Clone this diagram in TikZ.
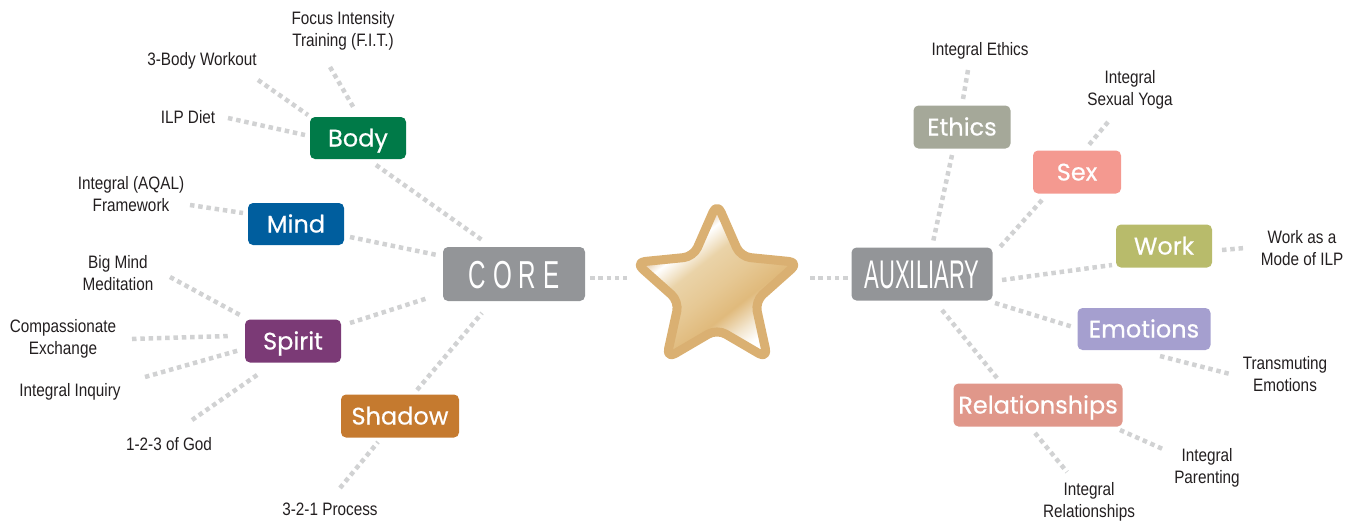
\documentclass[tikz,border=0pt]{standalone}
\usepackage{fontspec}
\setmainfont{Liberation Sans}[FakeStretch=0.85]
\newfontfamily\boxfont{Poppins}[FakeBold=0.5]
\newfontfamily\bigfont{Liberation Sans}[FakeStretch=0.55]
\newfontfamily\corefont{Liberation Sans}[FakeStretch=0.62]
\usetikzlibrary{calc}
\definecolor{lbltext}{HTML}{231F20}
\definecolor{dotgray}{HTML}{D1D2D3}
\definecolor{cBody}{HTML}{007A48}
\definecolor{cMind}{HTML}{005E9E}
\definecolor{cSpirit}{HTML}{7B3A76}
\definecolor{cShadow}{HTML}{C57A2F}
\definecolor{cGray}{HTML}{939598}
\definecolor{cEthics}{HTML}{A5A899}
\definecolor{cSex}{HTML}{F49990}
\definecolor{cWork}{HTML}{B8BB6B}
\definecolor{cEmo}{HTML}{A59FCF}
\definecolor{cRel}{HTML}{E0978A}
\definecolor{gRim}{HTML}{DAB072}
\definecolor{gA}{HTML}{D9B079}
\definecolor{gB}{HTML}{EAD3A8}
\definecolor{gC}{HTML}{E6C894}
\definecolor{gD}{HTML}{E0BA7C}
\definecolor{gE}{HTML}{F3E6CF}
\pgfdeclarehorizontalshading{goldshade}{100bp}{color(0bp)=(gA); color(30bp)=(gA); color(36bp)=(white); color(43bp)=(gB); color(52bp)=(gC); color(60bp)=(gD); color(67bp)=(gE); color(72bp)=(white); color(100bp)=(white)}
\tikzset{
  lbl/.style={font=\fontsize{18}{22}\selectfont, align=center, text=lbltext, inner sep=0pt},
  box/.style={rounded corners=5pt, inner sep=0pt, text=white, font=\boxfont\fontsize{24}{24}\selectfont, text height=17pt, text depth=0pt},
  dotline/.style={draw=dotgray, line width=4.5pt, dash pattern=on 4.5pt off 3.8pt, line cap=butt}
}
\begin{document}
\begin{tikzpicture}[x=1pt,y=-1pt]
\useasboundingbox (0,0) rectangle (1356,523);
% boxes
\node[box, fill=cBody, minimum width=96pt, minimum height=42pt] (body) at (358,138) {Body};
\node[box, fill=cMind, minimum width=96pt, minimum height=42pt] (mind) at (296,224) {Mind};
\node[box, fill=cSpirit, minimum width=96pt, minimum height=43pt] (spirit) at (293,341) {Spirit};
\node[box, fill=cShadow, minimum width=118pt, minimum height=43pt] (shadow) at (400,416) {Shadow};
\node[box, fill=cGray, minimum width=142pt, minimum height=54pt, font=\corefont\fontsize{39}{39}\selectfont, text height=28pt] (core) at (514,274) {C\hspace{7pt}O\hspace{7pt}R\hspace{7pt}E};
\node[box, fill=cGray, minimum width=141pt, minimum height=53pt, font=\bigfont\fontsize{40}{40}\selectfont, text height=29pt] (aux) at (922,274) {AUXILIARY};
\node[box, fill=cEthics, minimum width=97pt, minimum height=43pt] (ethics) at (962,127) {Ethics};
\node[box, fill=cSex, minimum width=88pt, minimum height=43pt] (sex) at (1077,172) {Sex};
\node[box, fill=cWork, minimum width=96pt, minimum height=43pt] (work) at (1164,246) {Work};
\node[box, fill=cEmo, minimum width=133pt, minimum height=42pt] (emotions) at (1144,329) {Emotions};
\node[box, fill=cRel, minimum width=169pt, minimum height=43pt] (rel) at (1038,405) {Relationships};
% labels
\node[lbl] (fit) at (343,31) {Focus Intensity\\Training (F.I.T.)};
\node[lbl] (threebody) at (202,61) {3-Body Workout};
\node[lbl] (diet) at (188,117) {ILP Diet};
\node[lbl] (aqal) at (131,194) {Integral (AQAL)\\Framework};
\node[lbl] (bigmind) at (118,273) {Big Mind\\Meditation};
\node[lbl] (compass) at (63,339) {Compassionate\\Exchange};
\node[lbl] (inquiry) at (70,392) {Integral Inquiry};
\node[lbl] (god) at (169,444) {1-2-3 of God};
\node[lbl] (process) at (330,509) {3-2-1 Process};
\node[lbl] (iethics) at (980,51) {Integral Ethics};
\node[lbl] (yoga) at (1130,90) {Integral\\Sexual Yoga};
\node[lbl] (workmode) at (1302,248) {Work as a\\Mode of ILP};
\node[lbl] (transm) at (1285,374) {Transmuting\\Emotions};
\node[lbl] (parenting) at (1207,468) {Integral\\Parenting};
\node[lbl] (irel) at (1089,502) {Integral\\Relationships};
% star
\coordinate (star) at (717,289);
\shadedraw[shading=goldshade, shading angle=-52, draw=gRim, line width=9pt, rounded corners=10pt, line join=round]
  ($(star)+(90:86pt)$) -- ($(star)+(126:40pt)$) -- ($(star)+(162:86pt)$) -- ($(star)+(198:40pt)$)
  -- ($(star)+(234:86pt)$) -- ($(star)+(270:40pt)$) -- ($(star)+(306:86pt)$) -- ($(star)+(342:40pt)$)
  -- ($(star)+(18:86pt)$) -- ($(star)+(54:40pt)$) -- cycle;
% connectors
\draw[dotline] ($(fit)+(-13,36)$) -- ($(body)+(-3,-28)$);
\draw[dotline] ($(threebody)+(56,19)$) -- ($(body)+(-50,-23)$);
\draw[dotline] ($(diet)+(40,1)$) -- ($(body)+(-53,-3)$);
\draw[dotline] ($(body)+(18,27)$) -- ($(core)+(-32,-34)$);
\draw[dotline] ($(aqal)+(59,11)$) -- ($(mind)+(-53,-11)$);
\draw[dotline] ($(mind)+(54,13)$) -- ($(core)+(-77,-19)$);
\draw[dotline] ($(bigmind)+(52,4)$) -- ($(spirit)+(-53,-26)$);
\draw[dotline] ($(compass)+(69,0)$) -- ($(spirit)+(-63,-5)$);
\draw[dotline] ($(inquiry)+(75,-15)$) -- ($(spirit)+(-53,9)$);
\draw[dotline] ($(god)+(23,-24)$) -- ($(spirit)+(-33,32)$);
\draw[dotline] ($(spirit)+(57,-18)$) -- ($(core)+(-86,24)$);
\draw[dotline] ($(shadow)+(17,-26)$) -- ($(core)+(-32,39)$);
\draw[dotline] ($(process)+(10,-21)$) -- ($(shadow)+(-22,26)$);
\draw[dotline] ($(core)+(76,4)$) -- ($(star)+(-90,-11)$);
\draw[dotline] ($(star)+(93,-11)$) -- ($(aux)+(-74,4)$);
\draw[dotline] ($(iethics)+(-12,19)$) -- ($(ethics)+(1,-28)$);
\draw[dotline] ($(ethics)+(-10,28)$) -- ($(aux)+(11,-32)$);
\draw[dotline] ($(yoga)+(-22,32)$) -- ($(sex)+(11,-26)$);
\draw[dotline] ($(sex)+(-35,28)$) -- ($(aux)+(78,-27)$);
\draw[dotline] ($(work)+(58,4)$) -- ($(workmode)+(-57,0)$);
\draw[dotline] ($(aux)+(80,6)$) -- ($(work)+(-52,19)$);
\draw[dotline] ($(aux)+(73,29)$) -- ($(emotions)+(-71,-2)$);
\draw[dotline] ($(emotions)+(16,27)$) -- ($(transm)+(-55,0)$);
\draw[dotline] ($(aux)+(20,36)$) -- ($(rel)+(-41,-27)$);
\draw[dotline] ($(rel)+(82,25)$) -- ($(parenting)+(-42,-18)$);
\draw[dotline] ($(rel)+(-3,28)$) -- ($(irel)+(-22,-30)$);
\end{tikzpicture}
\end{document}
